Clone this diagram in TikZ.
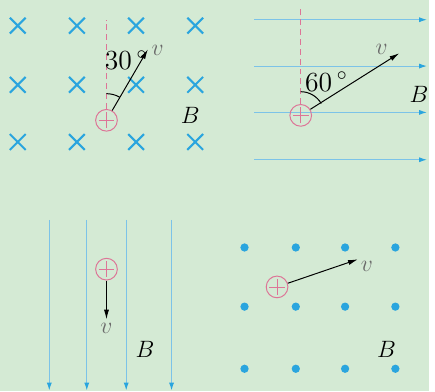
\documentclass[tikz,border=0pt]{standalone}
\usepackage{amsmath,amssymb}
\usepackage{xcolor}
\usepackage{tikz}
\usetikzlibrary{arrows.meta,positioning}
\definecolor{bgreen}{HTML}{D4EAD4}
\definecolor{fieldblue}{HTML}{2AA5DE}
\definecolor{lineblue}{HTML}{7CC3E8}
\definecolor{chargepink}{HTML}{DD7597}
\definecolor{vgray}{HTML}{6A6A6A}

\begin{document}
\begin{tikzpicture}[
          x=0.5pt, y=-0.5pt,
          cross/.style={draw=fieldblue, line width=1.05pt},
          dotB/.style={fill=fieldblue},
          fline/.style={draw=lineblue, line width=0.5pt, -{Latex[length=4pt,width=2.6pt,color=fieldblue]}},
          guide/.style={draw=chargepink, line width=0.5pt, dash pattern=on 3pt off 2pt},
          charge/.style={circle, draw=chargepink, line width=0.5pt, minimum size=11pt, inner sep=0pt,
              path picture={\draw[chargepink, line width=0.35pt]
                  ([xshift=-4pt]path picture bounding box.center) -- ([xshift=4pt]path picture bounding box.center)
                  ([yshift=-4pt]path picture bounding box.center) -- ([yshift=4pt]path picture bounding box.center);}},
          vel/.style={draw=black, line width=0.5pt, -{Latex[length=5pt,width=2.6pt]}},
          vlbl/.style={text=vgray, font=\fontsize{12}{14}\selectfont},
          blbl/.style={font=\fontsize{13}{15}\selectfont},
          ang/.style={font=\fontsize{14}{16}\selectfont, inner sep=0pt}
      ]
        \fill[bgreen] (0,0) rectangle (435,397);

        % top left: field into the page
        \foreach \x in {18,78,138,198}
          \foreach \y in {26,86,144}
            \draw[cross] (\x-8,\y-8) -- (\x+8,\y+8) (\x-8,\y+8) -- (\x+8,\y-8);
        \node[charge] (p1) at (108,122) {};
        \coordinate (t1) at (108,20);
        \coordinate (v1) at (150,50);
        \draw[guide] (p1) -- (t1);
        \draw[vel] (p1) -- (v1);
        \draw[line width=0.5pt] (108,122) ++(-90:27) arc (-90:-60:27);
        \node[ang] (a1) at (128,61) {30\,$^{\circ}$};
        \node[vlbl] (lv1) at (160,51) {$v$};
        \node[blbl] (lb1) at (193,117) {$B$};

        % top right: field to the right
        \foreach \y in {20,67,114,162}
          \draw[fline] (258,\y) -- (433,\y);
        \node[charge] (p2) at (305,117) {};
        \coordinate (t2) at (305,7);
        \coordinate (v2) at (405,54);
        \draw[guide] (p2) -- (t2);
        \draw[vel] (p2) -- (v2);
        \draw[line width=0.5pt] (305,117) ++(-90:24) arc (-90:-30:24);
        \node[ang] (a2) at (331,83) {60\,$^{\circ}$};
        \node[vlbl] (lv2) at (387,50) {$v$};
        \node[blbl] (lb2) at (425,96) {$B$};

        % bottom left: field downwards
        \foreach \x in {50,88,128,174}
          \draw[fline] (\x,223) -- (\x,396);
        \node[charge] (p3) at (108,273) {};
        \coordinate (v3) at (108,324);
        \draw[vel] (p3) -- (v3);
        \node[vlbl] (lv3) at (108,333) {$v$};
        \node[blbl] (lb3) at (147,354) {$B$};

        % bottom right: field out of the page
        \foreach \x in {248,300,350,401}
          \foreach \y in {251,311,374}
            \fill[dotB] (\x,\y) circle (2.1pt);
        \node[charge] (p4) at (281,291) {};
        \coordinate (v4) at (363,263);
        \draw[vel] (p4) -- (v4);
        \node[vlbl] (lv4) at (372,270) {$v$};
        \node[blbl] (lb4) at (392,354) {$B$};
      \end{tikzpicture}
\end{document}
